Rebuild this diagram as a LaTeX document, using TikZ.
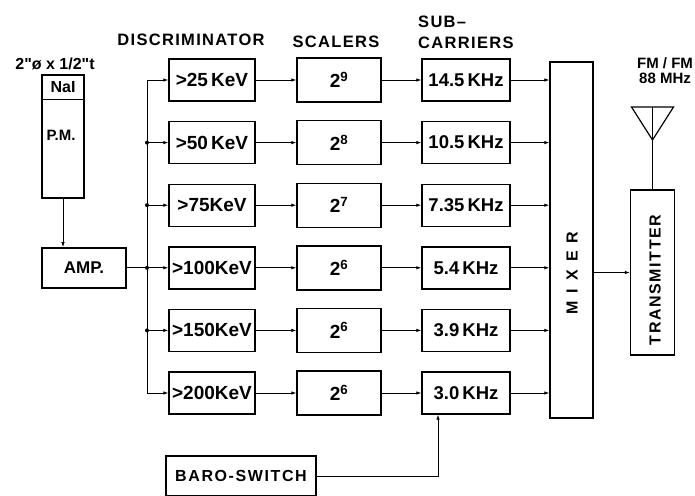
\documentclass[tikz,border=0pt]{standalone}
\usepackage{fontspec}
\setmainfont{Liberation Sans}
\usetikzlibrary{positioning,arrows.meta,calc}
\tikzset{blk/.style={draw,line width=1.4pt,minimum width=86pt,minimum height=42pt,inner sep=0pt,font=\bfseries\fontsize{19}{21}\selectfont},hdr/.style={inner sep=0pt,font=\bfseries\fontsize{16.5}{18}\selectfont\addfontfeature{LetterSpace=8}},link/.style={draw,line width=.8pt,-{Latex[length=5pt,width=3.5pt]}},wire/.style={draw,line width=.8pt},tap/.style={circle,fill,inner sep=0pt,minimum size=4pt}}

\begin{document}
\begin{tikzpicture}[x=1pt,y=-1pt]
\useasboundingbox (0,0) rectangle (695,495);
% column headings
\node[hdr] (hdisc) at (191,40) {DISCRIMINATOR};
\node[hdr] (hscal) at (336,42) {SCALERS};
\node[hdr,anchor=west] (hsub) at (418,22) {SUB–};
\node[hdr,anchor=west] (hcar) at (418,43) {CARRIERS};
% detector and amplifier
\node[hdr,font=\bfseries\fontsize{16}{18}\selectfont] (size) at (55,64) {2\textquotedbl ø x 1/2\textquotedbl t};
\node[blk,minimum width=42pt,minimum height=123pt] (pm) at (63,136.5) {};
\node[hdr,font=\bfseries\fontsize{16}{18}\selectfont] (nai) at ([yshift=-13pt]pm.north) {NaI};
\draw[line width=1.4pt] ([yshift=-25pt]pm.north west) -- ([yshift=-25pt]pm.north east);
\node[hdr,font=\bfseries\fontsize{15}{18}\selectfont] (pmt) at (61,135) {P.M.};
\node[blk,minimum width=84pt,minimum height=40pt,font=\bfseries\fontsize{17}{19}\selectfont] (amp) at (84,267.8) {AMP.};
\draw[link] (pm.south) -- (pm.south |- amp.north);
% mixer and transmitter
\node[blk,minimum width=43pt,minimum height=356pt] (mix) at (571.5,240) {};
\node[hdr,rotate=90,font=\bfseries\fontsize{16}{18}\selectfont\addfontfeature{LetterSpace=50}] (mixlbl) at (572,273) {MIXER};
\node[blk,minimum width=44pt,minimum height=165pt] (tx) at (652.5,272.5) {};
\node[hdr,rotate=90,font=\bfseries\fontsize{16}{18}\selectfont\addfontfeature{LetterSpace=10}] (txlbl) at (655,280) {TRANSMITTER};
\draw[link] (mix.east |- tx.west) -- (tx.west);
% antenna
\coordinate (ant) at (655,107);
\draw[wire] (tx.north) -- (tx.north |- ant);
\draw[line width=1.2pt] ($(tx.north |- ant)+(-21,0)$) -- ($(tx.north |- ant)+(21,0)$) -- ($(tx.north |- ant)+(0,33)$) -- cycle;
\node[hdr,font=\bfseries\fontsize{15}{17}\selectfont] (fm) at (665,63) {FM / FM};
\node[hdr,font=\bfseries\fontsize{15}{17}\selectfont] (mhz) at (665,78) {88 MHz};
% channels
\foreach \e/\p/\f [count=\i] in {{25\,}/9/14.5,{50\,}/8/10.5,75/7/7.35,100/6/5.4,150/6/3.9,200/6/3.0}{
  \pgfmathsetmacro\ry{80+62.6*(\i-1)}
  \node[blk] (d\i) at (212,\ry) {>\e KeV};
  \node[blk,minimum width=84pt,minimum height=44pt] (s\i) at (339,\ry) {2\textsuperscript{\p}};
  \node[blk,minimum width=88pt,font=\bfseries\fontsize{18.5}{20}\selectfont] (c\i) at (466,\ry) {\f\,KHz};
  \draw[link] (d\i) -- (s\i);
  \draw[link] (s\i) -- (c\i);
  \draw[link] (c\i.east) -- (c\i.east -| mix.west);
}
% bus from amplifier
\coordinate (bus) at (147,80);
\draw[wire] (bus) -- (bus |- d6.west);
\foreach \i in {1,...,6} \draw[link] (bus |- d\i.west) -- (d\i.west);
\foreach \i in {2,...,5} \node[tap] (t\i) at (bus |- d\i.west) {};
\draw[wire] (amp.east) -- (amp.east -| bus);
% baro-switch
\node[blk,minimum width=150pt,minimum height=40pt,font=\bfseries\fontsize{16}{18}\selectfont\addfontfeature{LetterSpace=10}] (baro) at (241,476) {BARO-SWITCH};
\coordinate (bin) at ([xshift=-28pt]c6.south);
\draw[link] (baro.east) -| (bin);
\end{tikzpicture}
\end{document}
